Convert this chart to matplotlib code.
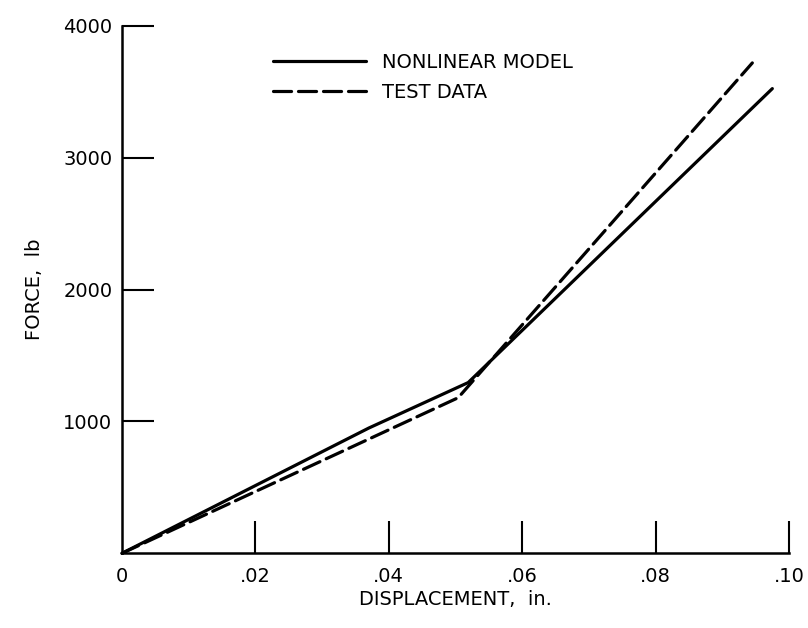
import matplotlib.pyplot as plt

# displacement (in.) and force (lb)
model_x = [0.0, 0.037, 0.0519, 0.0975]
model_y = [0, 950, 1295, 3525]
test_x = [0.0, 0.0504, 0.0945]
test_y = [0, 1180, 3720]

xticks = [0.0, 0.02, 0.04, 0.06, 0.08, 0.10]
xticklabels = ['0', '.02', '.04', '.06', '.08', '.10']
yticks = [1000, 2000, 3000, 4000]
yticklabels = ['1000', '2000', '3000', '4000']

plt.rcParams['font.family'] = ['DejaVu Sans']
plt.rcParams['lines.scale_dashes'] = False

fig = plt.figure(figsize=(8.08, 6.28), dpi=100)
ax = fig.add_axes([0.151, 0.119, 0.8255, 0.8396])

ax.plot(model_x, model_y, color='black', linewidth=2.3,
        solid_capstyle='round', label='NONLINEAR MODEL', clip_on=False)
ax.plot(test_x, test_y, color='black', linewidth=2.3, dashes=(13, 5),
        dash_capstyle='round', label='TEST DATA', clip_on=False)

ax.set_xlim(0, 0.10)
ax.set_ylim(0, 4000)
ax.set_xticks(xticks)
ax.set_xticklabels(xticklabels)
ax.set_yticks(yticks)
ax.set_yticklabels(yticklabels)

for side in ['top', 'right']:
    ax.spines[side].set_visible(False)
for side in ['left', 'bottom']:
    ax.spines[side].set_linewidth(1.8)

ax.tick_params(direction='in', length=23, width=1.5, labelsize=14)
ax.tick_params(axis='x', pad=10)
ax.tick_params(axis='y', pad=7)
ax.xaxis.get_major_ticks()[0].tick1line.set_visible(False)
for t in ax.xaxis.get_major_ticks() + ax.yaxis.get_major_ticks():
    t.tick1line.set_clip_on(False)

ax.set_xlabel('DISPLACEMENT,  in.', fontsize=14, labelpad=3)
ax.set_ylabel('FORCE,  lb', fontsize=14, labelpad=14)

ax.legend(loc='upper left', bbox_to_anchor=(0.2, 0.982), frameon=False,
          fontsize=14, handlelength=4.8, handletextpad=0.8, labelspacing=0.55)

fig.savefig('out.png', dpi=100)
